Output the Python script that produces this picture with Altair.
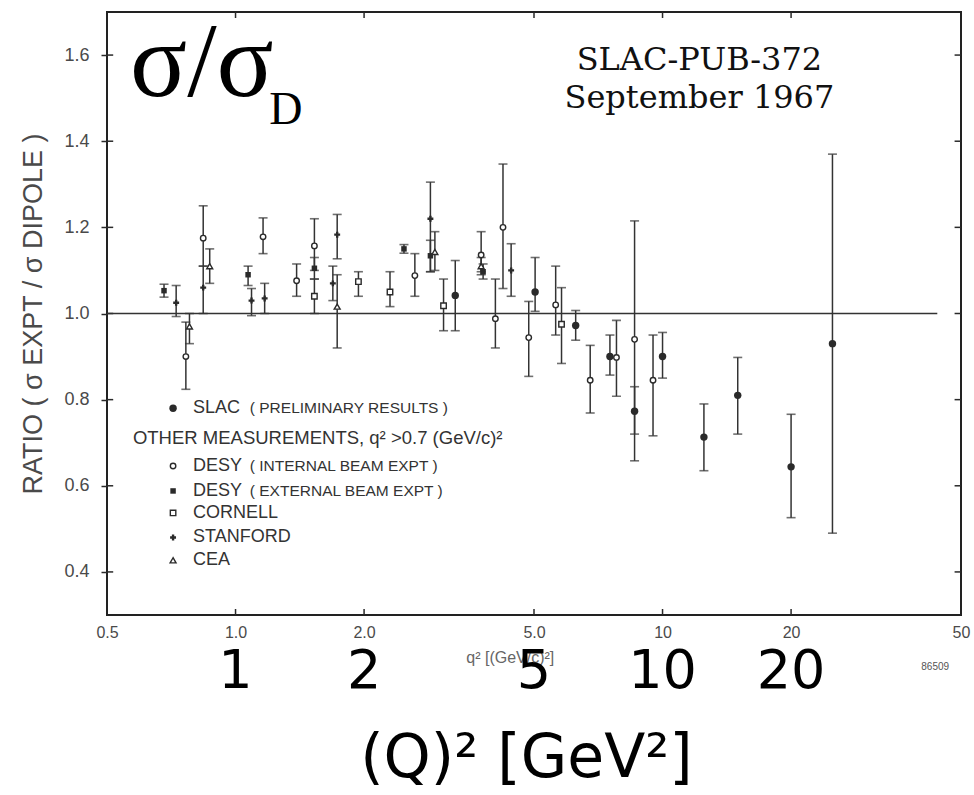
import altair as alt
import pandas as pd

# ---------------- data ----------------
# SLAC preliminary results (filled circles)
slac_q = [3.27, 5.03, 6.26, 7.53, 8.6, 10.0, 12.5, 15.0, 20.0, 25.0]
slac_v = [1.042, 1.05, 0.972, 0.90, 0.773, 0.90, 0.713, 0.81, 0.644, 0.93]
slac_lo = [0.96, 1.005, 0.938, 0.857, 0.72, 0.85, 0.635, 0.72, 0.526, 0.49]
slac_hi = [1.123, 1.13, 1.007, 0.95, 0.83, 0.956, 0.79, 0.898, 0.766, 1.37]

# DESY internal beam (open circles)
desyi_q = [0.765, 0.84, 1.16, 1.39, 1.53, 2.63, 3.76, 4.06, 4.23, 4.86, 5.62, 6.77, 7.8, 8.6, 9.5]
desyi_v = [0.90, 1.175, 1.178, 1.076, 1.157, 1.088, 1.136, 0.988, 1.20, 0.944, 1.02, 0.845, 0.898, 0.94, 0.845]
desyi_lo = [0.824, 1.11, 1.139, 1.04, 1.10, 1.04, 1.097, 0.92, 1.058, 0.854, 0.95, 0.769, 0.808, 0.658, 0.716]
desyi_hi = [0.98, 1.25, 1.222, 1.115, 1.22, 1.139, 1.19, 1.08, 1.347, 1.028, 1.11, 0.926, 0.984, 1.215, 0.95]

# DESY external beam (small filled squares)
desye_q = [0.68, 1.07, 1.53, 2.48, 2.86, 3.8]
desye_v = [1.053, 1.09, 1.105, 1.15, 1.134, 1.097]
desye_lo = [1.038, 1.065, 1.08, 1.14, 1.097, 1.08]
desye_hi = [1.068, 1.11, 1.13, 1.16, 1.17, 1.115]

# Cornell (open squares)
corn_q = [1.53, 1.94, 2.3, 3.07, 5.8]
corn_v = [1.04, 1.074, 1.05, 1.018, 0.975]
corn_lo = [1.0, 1.04, 1.016, 0.96, 0.884]
corn_hi = [1.08, 1.097, 1.097, 1.08, 1.06]

# Stanford (crosses)
stan_q = [0.726, 0.84, 1.09, 1.17, 1.69, 1.73, 2.86, 4.42]
stan_v = [1.025, 1.06, 1.03, 1.035, 1.07, 1.183, 1.22, 1.10]
stan_lo = [0.993, 1.0, 0.995, 1.0, 1.03, 1.127, 1.097, 1.04]
stan_hi = [1.065, 1.11, 1.058, 1.07, 1.11, 1.23, 1.305, 1.162]

# CEA (triangles)
cea_q = [0.78, 0.87, 1.73, 2.93, 3.76]
cea_v = [0.97, 1.11, 1.016, 1.143, 1.11]
cea_lo = [0.93, 1.07, 0.92, 1.10, 1.09]
cea_hi = [1.0, 1.15, 1.09, 1.19, 1.13]

# axis ticks
x_tick_labels = [0.5, 1, 2, 5, 10, 20, 50]
x_inner_ticks = [1, 2, 5, 10, 20]
y_ticks = [0.4, 0.6, 0.8, 1.0, 1.2, 1.4, 1.6]

# legend (inside plot)
leg_main = ["SLAC", "DESY", "DESY", "CORNELL", "STANFORD", "CEA"]
leg_sub = ["( PRELIMINARY RESULTS )", "( INTERNAL BEAM EXPT )", "( EXTERNAL BEAM EXPT )", "", "", ""]
leg_v = [0.78, 0.646, 0.588, 0.537, 0.48, 0.427]
other_text = "OTHER MEASUREMENTS, q² >0.7 (GeV/c)²"
other_v = 0.71

# overlay annotation text
big_ticks = ["1", "2", "5", "10", "20"]
big_ticks_q = [1, 2, 5, 10, 20]

# ---------------- scales / axes ----------------
INK = "#2a2a2a"
GRAY = "#4a4a4a"
xs = alt.Scale(type="log", domain=[0.5, 50])
ys = alt.Scale(domain=[0.3, 1.7])
XAX = alt.Axis(
    values=x_tick_labels, ticks=False, domain=False, grid=False, title=None,
    labelExpr="datum.value >= 10 ? format(datum.value, 'd') : format(datum.value, '.1f')",
    labelFont="Liberation Sans", labelFontSize=16, labelColor=GRAY, labelPadding=9,
    labelFlush=False)
YAX = alt.Axis(
    values=y_ticks, format=".1f", tickSize=6, tickColor=INK, tickWidth=1.5,
    domain=False, grid=False, labelFont="Liberation Sans", labelFontSize=18,
    labelColor=GRAY, labelPadding=12,
    title="RATIO ( σ EXPT / σ DIPOLE )", titleFont="Liberation Sans",
    titleFontSize=27, titleFontWeight="normal", titleColor=GRAY, titlePadding=16)


def X(f="q"):
    return alt.X(f"{f}:Q", scale=xs, axis=XAX)


def Y(f="v"):
    return alt.Y(f"{f}:Q", scale=ys, axis=YAX)


sets = [
    ("SLAC", slac_q, slac_v, slac_lo, slac_hi),
    ("DESYI", desyi_q, desyi_v, desyi_lo, desyi_hi),
    ("DESYE", desye_q, desye_v, desye_lo, desye_hi),
    ("CORN", corn_q, corn_v, corn_lo, corn_hi),
    ("STAN", stan_q, stan_v, stan_lo, stan_hi),
    ("CEA", cea_q, cea_v, cea_lo, cea_hi),
]
rows = []
for name, q, v, lo, hi in sets:
    for a, b, c, d in zip(q, v, lo, hi):
        rows.append({"set": name, "q": a, "v": b, "lo": c, "hi": d})
df = pd.DataFrame(rows)
caps = pd.concat([
    df[["set", "q", "lo"]].rename(columns={"lo": "v"}),
    df[["set", "q", "hi"]].rename(columns={"hi": "v"}),
])

layers = []

# left / right inner ticks
left_df = pd.DataFrame({"q": [0.5] * len(y_ticks), "q2": [0.517] * len(y_ticks), "v": y_ticks})
layers.append(alt.Chart(left_df).mark_rule(color=INK, strokeWidth=1.5).encode(x=X(), x2="q2:Q", y=Y()))
right_df = pd.DataFrame({"q": [48.3] * len(y_ticks), "q2": [50] * len(y_ticks), "v": y_ticks})
layers.append(alt.Chart(right_df).mark_rule(color=INK, strokeWidth=1.5).encode(x=X(), x2="q2:Q", y=Y()))
# bottom / top inner ticks
bt_df = pd.DataFrame({"q": x_inner_ticks, "v": [0.3] * 5, "v2": [0.314] * 5})
tp_df = pd.DataFrame({"q": x_inner_ticks, "v": [1.686] * 5, "v2": [1.7] * 5})
layers.append(alt.Chart(bt_df).mark_rule(color=INK, strokeWidth=1.5).encode(x=X(), y=Y(), y2="v2:Q"))
layers.append(alt.Chart(tp_df).mark_rule(color=INK, strokeWidth=1.5).encode(x=X(), y=Y(), y2="v2:Q"))

# reference line at 1.0
ref_df = pd.DataFrame({"q": [0.5], "q2": [44], "v": [1.0]})
layers.append(alt.Chart(ref_df).mark_rule(color="#333", strokeWidth=1.6).encode(x=X(), x2="q2:Q", y=Y()))

# error bars
layers.append(alt.Chart(df).mark_rule(color="#333", strokeWidth=1.5).encode(x=X(), y=Y("lo"), y2="hi:Q"))
layers.append(alt.Chart(caps).mark_tick(orient="horizontal", size=9, thickness=1.6, color="#333").encode(x=X(), y=Y()))

# markers
styles = {
    "SLAC": dict(shape="circle", filled=True, size=55),
    "DESYI": dict(shape="circle", filled=False, size=30),
    "DESYE": dict(shape="square", filled=True, size=30),
    "CORN": dict(shape="square", filled=False, size=30),
    "STAN": dict(shape="cross", filled=True, size=35),
    "CEA": dict(shape="triangle-up", filled=False, size=35),
}
leg_sets = ["SLAC", "DESYI", "DESYE", "CORN", "STAN", "CEA"]
for i, name in enumerate(leg_sets):
    st = styles[name]
    sub = df[df["set"] == name][["q", "v"]]
    leg = pd.DataFrame({"q": [0.714], "v": [leg_v[i]]})
    data = pd.concat([sub, leg])
    m = alt.Chart(data).mark_point(
        shape=st["shape"], filled=st["filled"], size=st["size"], opacity=1,
        color=INK, strokeWidth=1.4,
        fill="white" if not st["filled"] else INK,
    ).encode(x=X(), y=Y())
    layers.append(m)

# legend text
leg_df = pd.DataFrame({"q": [0.795] * 6, "v": leg_v, "t": leg_main})
layers.append(alt.Chart(leg_df).mark_text(align="left", baseline="middle", font="Liberation Sans",
                                          fontSize=18, color="#333").encode(x=X(), y=Y(), text="t:N"))
sub_df = pd.DataFrame({"q": [1.08] * 6, "v": leg_v, "t": leg_sub})
layers.append(alt.Chart(sub_df).mark_text(align="left", baseline="middle", font="Liberation Sans",
                                          fontSize=15.5, color="#333").encode(x=X(), y=Y(), text="t:N"))
oth_df = pd.DataFrame({"q": [0.575], "v": [other_v], "t": [other_text]})
layers.append(alt.Chart(oth_df).mark_text(align="left", baseline="middle", font="Liberation Sans",
                                          fontSize=18.5, color="#333").encode(x=X(), y=Y(), text="t:N"))

# original axis title and figure number
qt_df = pd.DataFrame({"q": [4.4], "v": [0.2], "t": ["q²  [(GeV/c)²]"]})
layers.append(alt.Chart(qt_df).mark_text(align="center", baseline="middle", font="Liberation Sans",
                                         fontSize=16, color="#666").encode(x=X(), y=Y(), text="t:N"))
fn_df = pd.DataFrame({"q": [43.5], "v": [0.18], "t": ["86509"]})
layers.append(alt.Chart(fn_df).mark_text(align="center", baseline="middle", font="Liberation Sans",
                                         fontSize=10, color="#555").encode(x=X(), y=Y(), text="t:N"))

# header annotations
s1 = pd.DataFrame({"q": [0.566], "v": [1.504], "t": ["σ/σ"]})
layers.append(alt.Chart(s1).mark_text(align="left", baseline="alphabetic", font="Liberation Serif",
                                      fontSize=106, color="black").encode(x=X(), y=Y(), text="t:N"))
s2 = pd.DataFrame({"q": [1.2], "v": [1.44], "t": ["D"]})
layers.append(alt.Chart(s2).mark_text(align="left", baseline="alphabetic", font="Liberation Serif",
                                      fontSize=46, color="black").encode(x=X(), y=Y(), text="t:N"))
hdr = pd.DataFrame({"q": [12.2, 12.2], "v": [1.566, 1.478], "t": ["SLAC-PUB-372", "September 1967"]})
layers.append(alt.Chart(hdr).mark_text(align="center", baseline="alphabetic", font="DejaVu Serif",
                                       fontSize=32, color="#111").encode(x=X(), y=Y(), text="t:N"))

# big overlay tick numbers and title
bt = pd.DataFrame({"q": big_ticks_q, "v": [0.13] * 5, "t": big_ticks})
layers.append(alt.Chart(bt).mark_text(align="center", baseline="alphabetic", font="DejaVu Sans",
                                      fontSize=54, color="black").encode(x=X(), y=Y(), text="t:N"))
tt = pd.DataFrame({"q": [4.8], "v": [-0.075], "t": ["(Q)² [GeV²]"]})
layers.append(alt.Chart(tt).mark_text(align="center", baseline="alphabetic", font="DejaVu Sans",
                                      fontSize=60, color="black").encode(x=X(), y=Y(), text="t:N"))

chart = alt.layer(*layers).properties(
    width=854, height=603,
    autosize=alt.AutoSizeParams(type="none"),
    padding={"left": 107, "top": 12, "right": 13, "bottom": 180},
    background="white",
).configure_view(stroke="#222", strokeWidth=2)

chart.save("out.html", embed_options={"renderer": "svg", "actions": False})
